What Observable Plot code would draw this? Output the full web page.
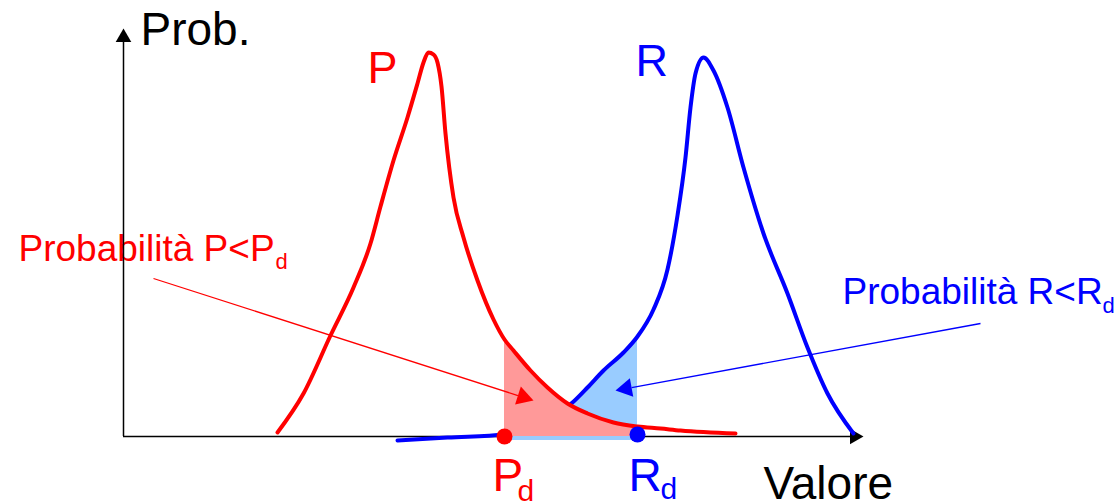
<!DOCTYPE html>
<html><head><meta charset="utf-8">
<script src="https://cdn.jsdelivr.net/npm/d3@7"></script>
<script src="https://cdn.jsdelivr.net/npm/@observablehq/plot@0.6"></script>
<style>body{margin:0;background:#fff} svg{display:block}</style>
</head><body><div id="chart"></div>
<script>
// Curve P (red): [valore, prob]
const pCurve = [[154,4],[180,43],[207,101],[230,149],[247,193],[257,230],[270,276],[284,319],[294,353],[300,374],[305,384],[310,382],[314,374],[318,350],[322,303],[330,239],[340,199],[354,156],[370,117],[381,97],[390,86],[407,66],[424,49],[444,33],[464,23],[490,14],[514,10],[537,8],[557,6],[612,3]];
// Curve R (blue)
const rCurve = [[274,-4],[324,-1],[381,2],[407,9],[429,20],[449,34],[464,49],[480,66],[500,84],[514,100],[530,127],[544,167],[554,221],[562,279],[567,329],[572,363],[580,379],[590,366],[604,329],[620,269],[640,203],[664,143],[684,89],[704,43],[730,3]];
// thresholds
const Pd = 381, Rd = 514;
const thresholds = [{x: Pd, y: 0, c: "#ff0000"}, {x: Rd, y: 2, c: "#0000ff"}];
// axis extents
const xAxisEnd = 740, yAxisEnd = 408;
// annotation arrows [from, to]
const annotArrows = [
  {x1: 30, y1: 158, x2: 410, y2: 36, c: "#ff0000"},
  {x1: 857, y1: 113, x2: 492, y2: 46, c: "#0000ff"}
];
// labels
const labels = [
  {x: 17, y: 392, t: "Prob.", c: "#000", s: 46},
  {x: 244, y: 354, t: "P", c: "#ff0000", s: 45},
  {x: 512, y: 361, t: "R", c: "#0000ff", s: 45},
  {x: -105, y: 176, t: "Probabilità P<P", c: "#ff0000", s: 37},
  {x: 152, y: 168, t: "d", c: "#ff0000", s: 22},
  {x: 719, y: 133, t: "Probabilità R<R", c: "#0000ff", s: 37},
  {x: 979, y: 124, t: "d", c: "#0000ff", s: 22},
  {x: 369, y: -54, t: "P", c: "#ff0000", s: 46},
  {x: 394, y: -64, t: "d", c: "#ff0000", s: 30},
  {x: 505, y: -54, t: "R", c: "#0000ff", s: 46},
  {x: 537, y: -62, t: "d", c: "#0000ff", s: 30},
  {x: 640, y: -62, t: "Valore", c: "#000", s: 46}
];

const P = pCurve.map(([x, y]) => ({x, y}));
const R = rCurve.map(([x, y]) => ({x, y}));

const AXIS_HEAD_R = 5.8, NOTE_HEAD_R = 7;
// arrowhead triangles derived from arrow endpoints (scales are 1:1 px)
function head(x1, y1, x2, y2, r, c) {
  const dx = x2 - x1, dy = -(y2 - y1);
  const len = Math.hypot(dx, dy), ux = dx / len, uy = dy / len;
  const hy = Math.sqrt(Math.PI * r * r / (3 * Math.sqrt(3)));
  const off = 2 * hy;
  return {x: x2 - ux * off, y: y2 + uy * off, rot: Math.atan2(dx, -dy) * 180 / Math.PI, c,
          bx: x2 - ux * 3 * hy, by: y2 + uy * 3 * hy};
}
const axisHeads = [
  head(0, 0, 0, yAxisEnd, AXIS_HEAD_R, "#000"),
  head(0, 0, xAxisEnd, 0, AXIS_HEAD_R, "#000")
];
const noteHeads = annotArrows.map(a => head(a.x1, a.y1, a.x2, a.y2, NOTE_HEAD_R, a.c));
const links = annotArrows.map((a, i) => ({...a, x2: noteHeads[i].bx, y2: noteHeads[i].by}));

const font = "'Liberation Sans', Arial, Helvetica, sans-serif";
const chart = Plot.plot({
  width: 1119, height: 504,
  marginLeft: 123, marginRight: 0, marginTop: 0, marginBottom: 68,
  x: {domain: [0, 996], axis: null},
  y: {domain: [0, 436], axis: null},
  style: {fontFamily: font, background: "#fff", overflow: "visible"},
  marks: [
    ...labels.map(l => Plot.text([l], {x: "x", y: "y", text: "t", fill: l.c, fontSize: l.s, textAnchor: "start", lineAnchor: "bottom", fontFamily: font})),
    Plot.ruleY([0], {x1: 0, x2: xAxisEnd - 10, stroke: "#000", strokeWidth: 1.5}),
    Plot.ruleX([0], {y1: 0, y2: yAxisEnd - 10, stroke: "#000", strokeWidth: 1.5}),
    Plot.dot(axisHeads, {x: "x", y: "y", r: AXIS_HEAD_R, symbol: "triangle", rotate: "rot", fill: "#000", stroke: "none"}),
    Plot.areaY(R.filter(d => d.x >= Pd && d.x <= Rd), {x: "x", y1: -4, y2: "y", fill: "#99ccff", curve: "monotone-x"}),
    Plot.line(R, {x: "x", y: "y", stroke: "#0000ff", strokeWidth: 4, curve: "monotone-x"}),
    Plot.areaY(P.filter(d => d.x >= Pd && d.x <= Rd), {x: "x", y1: 0, y2: "y", fill: "#ff9999", curve: "monotone-x"}),
    Plot.line(P, {x: "x", y: "y", stroke: "#ff0000", strokeWidth: 4, curve: "monotone-x"}),
    Plot.link(links, {x1: "x1", y1: "y1", x2: "x2", y2: "y2", stroke: "c", strokeWidth: 1.3}),
    Plot.dot(noteHeads, {x: "x", y: "y", r: NOTE_HEAD_R, symbol: "triangle", rotate: "rot", fill: "c", stroke: "none"}),
    Plot.dot(thresholds, {x: "x", y: "y", r: 8, fill: "c", stroke: "none"})
  ]
});
document.getElementById("chart").append(chart);
</script></body></html>
